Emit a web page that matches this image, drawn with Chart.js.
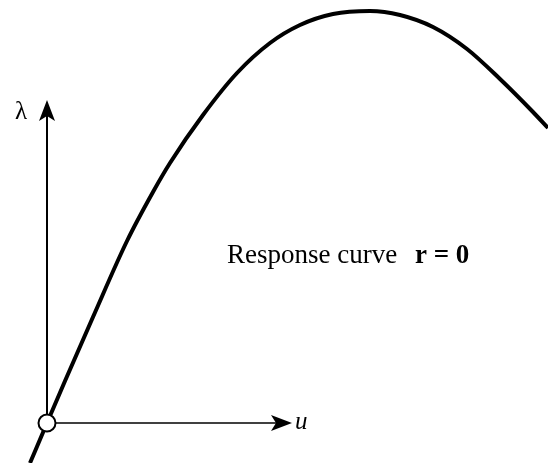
<!DOCTYPE html>
<html>
<head>
<meta charset="utf-8">
<script src="https://cdn.jsdelivr.net/npm/chart.js@4.4.1/dist/chart.umd.min.js"></script>
<style>
  html, body { margin: 0; padding: 0; background: #fff; }
  #wrap { width: 548px; height: 463px; }
</style>
</head>
<body>
<div id="wrap"><canvas id="curveChart"></canvas></div>
<script>
// response curve r = 0, sampled along u
const uValues = [-0.17, 0, 0.18, 0.46, 0.80, 1.06, 1.23, 1.56, 1.90, 2.23, 2.53, 2.86, 3.23, 3.53, 3.86, 4.20, 4.53, 4.86, 5.01];
const lambdaValues = [-0.40, 0, 0.42, 1.06, 1.82, 2.31, 2.60, 3.08, 3.50, 3.80, 3.98, 4.09, 4.12, 4.08, 3.96, 3.74, 3.44, 3.11, 2.95];

// starting point of the branch
const originU = [0];
const originLambda = [0];

// axis extents and labels
const axisLabels = ['u', 'λ'];
const axisTips = [2.45, 3.23];

const curvePoints = uValues.map((u, i) => ({ x: u, y: lambdaValues[i] }));
const originPoints = originU.map((u, i) => ({ x: u, y: originLambda[i] }));

function arrowHead(ctx, x, y, dir) {
    // dir: 'right' or 'up'
    ctx.save();
    ctx.translate(x, y);
    if (dir === 'up') ctx.rotate(-Math.PI / 2);
    ctx.beginPath();
    ctx.moveTo(0, 0);
    ctx.lineTo(-21, -8);
    ctx.lineTo(-16, 0);
    ctx.lineTo(-21, 8);
    ctx.closePath();
    ctx.fillStyle = '#000';
    ctx.fill();
    ctx.restore();
}

const axesPlugin = {
    id: 'axesArrows',
    beforeDatasetsDraw(chart) {
        const ctx = chart.ctx;
        const xs = chart.scales.x;
        const ys = chart.scales.y;
        const ox = xs.getPixelForValue(0);
        const oy = ys.getPixelForValue(0);
        const tipX = xs.getPixelForValue(axisTips[0]);
        const tipY = ys.getPixelForValue(axisTips[1]);

        ctx.save();
        ctx.strokeStyle = '#000';
        ctx.lineCap = 'butt';

        ctx.lineWidth = 1.6;
        ctx.beginPath();
        ctx.moveTo(ox, oy);
        ctx.lineTo(tipX - 12, oy);
        ctx.stroke();

        ctx.lineWidth = 2;
        ctx.beginPath();
        ctx.moveTo(ox, oy);
        ctx.lineTo(ox, tipY + 12);
        ctx.stroke();

        arrowHead(ctx, tipX, oy, 'right');
        arrowHead(ctx, ox, tipY, 'up');

        ctx.fillStyle = '#000';
        ctx.textBaseline = 'middle';
        ctx.textAlign = 'left';
        ctx.font = 'italic 25px "Liberation Serif"';
        ctx.fillText(axisLabels[0], tipX + 3, oy - 1);
        ctx.textAlign = 'center';
        ctx.font = '25px "Liberation Serif"';
        ctx.fillText(axisLabels[1], ox - 26, tipY + 12);

        // curve caption
        ctx.textBaseline = 'alphabetic';
        ctx.textAlign = 'left';
        const cx = xs.getPixelForValue(1.80);
        const cy = ys.getPixelForValue(1.60);
        ctx.font = '27px "Liberation Serif"';
        ctx.fillText('Response curve', cx, cy);
        ctx.font = 'bold 27px "Liberation Serif"';
        ctx.fillText('r = 0', cx + 188, cy);
        ctx.restore();
    }
};

new Chart(document.getElementById('curveChart'), {
    type: 'scatter',
    data: {
        datasets: [
            {
                data: originPoints,
                pointRadius: 8.5,
                pointHoverRadius: 8.5,
                pointBackgroundColor: '#fff',
                pointBorderColor: '#000',
                pointBorderWidth: 2,
                showLine: false,
                order: 0
            },
            {
                data: curvePoints,
                showLine: true,
                borderColor: '#000',
                borderWidth: 4,
                pointRadius: 0,
                cubicInterpolationMode: 'monotone',
                fill: false,
                clip: false,
                order: 1
            }
        ]
    },
    options: {
        responsive: true,
        maintainAspectRatio: false,
        animation: false,
        layout: { padding: 0, autoPadding: false },
        scales: {
            x: { type: 'linear', display: false, min: -0.47, max: 5.01 },
            y: { type: 'linear', display: false, min: -0.40, max: 4.23 }
        },
        plugins: {
            legend: { display: false },
            tooltip: { enabled: false }
        }
    },
    plugins: [axesPlugin]
});
</script>
</body>
</html>
